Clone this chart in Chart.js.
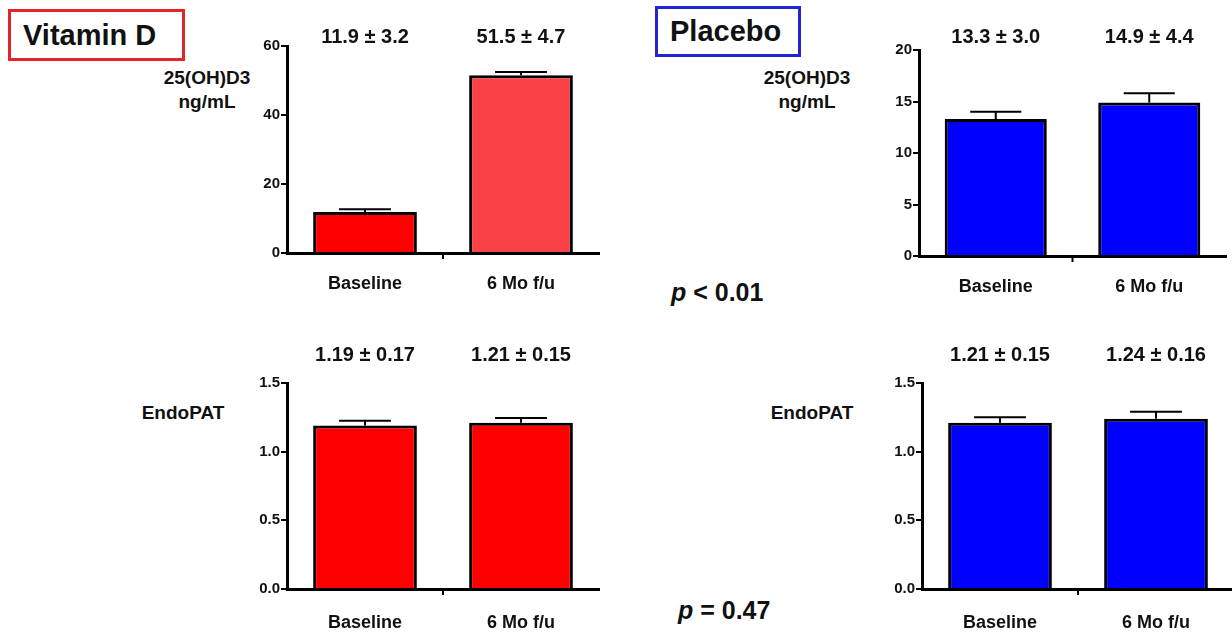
<!DOCTYPE html>
<html>
<head>
<meta charset="utf-8">
<script src="https://cdn.jsdelivr.net/npm/chart.js@4.4.1/dist/chart.umd.min.js"></script>
<style>
body { margin: 0; width: 1232px; height: 635px; overflow: hidden; background: #fff; position: relative;
  font-family: 'Liberation Sans', Arial, sans-serif; color: #111; }
canvas { position: absolute; }
.box { position: absolute; box-sizing: border-box; border: 3px solid; font-weight: bold; font-size: 29px; padding-left: 12px; }
.ytitle { position: absolute; width: 120px; text-align: center; font-weight: bold; font-size: 19px; line-height: 24px; }
.pval { position: absolute; font-weight: bold; font-size: 25px; line-height: 30px; }
</style>
</head>
<body>
<div class="box" style="left:8px;top:9px;width:177px;height:52px;line-height:46px;border-color:#e3242b">Vitamin D</div>
<div class="box" style="left:655px;top:6px;width:146px;height:51px;line-height:45px;border-color:#2323d4">Placebo</div>

<div class="ytitle" style="left:147px;top:66px">25(OH)D3<br>ng/mL</div>
<div class="ytitle" style="left:747px;top:66px">25(OH)D3<br>ng/mL</div>
<div class="ytitle" style="left:123px;top:401px">EndoPAT</div>
<div class="ytitle" style="left:752px;top:401px">EndoPAT</div>

<div class="pval" style="left:671px;top:277px"><i>p</i> &lt; 0.01</div>
<div class="pval" style="left:678px;top:595px"><i>p</i> = 0.47</div>

<canvas id="vitD25"></canvas>
<canvas id="plac25"></canvas>
<canvas id="vitDEndo"></canvas>
<canvas id="placEndo"></canvas>

<script>
'use strict';

var categories = ['Baseline', '6 Mo f/u'];

// 25(OH)D3, ng/mL (mean, SD printed above, SEM drawn as error bar)
var vitD25 = [11.9, 51.5];
var vitD25Sd = [3.2, 4.7];
var vitD25Err = [0.8, 1.0];
var plac25 = [13.3, 14.9];
var plac25Sd = [3.0, 4.4];
var plac25Err = [0.7, 0.9];

// EndoPAT
var vitDEndo = [1.19, 1.21];
var vitDEndoSd = [0.17, 0.15];
var vitDEndoErr = [0.035, 0.036];
var placEndo = [1.21, 1.24];
var placEndoSd = [0.15, 0.16];
var placEndoErr = [0.04, 0.05];

// y axis ticks
var vitD25Ticks = [0, 20, 40, 60];
var plac25Ticks = [0, 5, 10, 15, 20];
var endoTicks = [0, 0.5, 1.0, 1.5];

var FONT = "'Liberation Sans', Arial, sans-serif";
Chart.defaults.font.family = FONT;
Chart.defaults.color = '#111';

// error bars, value labels over the bars and the little tick between the two categories
var decorPlugin = {
  id: 'decor',
  afterDatasetsDraw: function(chart) {
    var ctx = chart.ctx;
    var ds = chart.data.datasets[0];
    var meta = chart.getDatasetMeta(0);
    var yScale = chart.scales.y;
    var xScale = chart.scales.x;
    ctx.save();
    ctx.strokeStyle = '#000';
    ctx.lineWidth = 2;
    meta.data.forEach(function(bar, i) {
      var top = yScale.getPixelForValue(ds.data[i] + ds.err[i]);
      var half = bar.width / 4;
      ctx.beginPath();
      ctx.moveTo(bar.x, bar.y);
      ctx.lineTo(bar.x, top);
      ctx.moveTo(bar.x - half, top);
      ctx.lineTo(bar.x + half, top);
      ctx.stroke();

      ctx.fillStyle = '#111';
      ctx.font = 'bold 20px ' + FONT;
      ctx.textAlign = 'center';
      ctx.textBaseline = 'middle';
      ctx.fillText(ds.data[i].toFixed(ds.dec) + ' \u00b1 ' + ds.sd[i].toFixed(ds.dec),
        bar.x, chart.chartArea.top - ds.labelGap);
    });
    var mid = (xScale.getPixelForValue(0) + xScale.getPixelForValue(1)) / 2;
    ctx.beginPath();
    ctx.moveTo(mid, chart.chartArea.bottom);
    ctx.lineTo(mid, chart.chartArea.bottom + 6);
    ctx.stroke();
    ctx.restore();
  }
};

// L,T,R,B are where the axes should land on the page
function makePanel(id, L, T, R, B, values, sd, err, colors, ticks, dec, tickDec, labelGap, xPad) {
  var canvas = document.getElementById(id);
  var padTop = 44;
  var yw = 60;
  var xh = 50;
  var padRight = 8;
  canvas.width = (R - L) + yw + padRight;
  canvas.height = (B - T) + padTop + xh;
  canvas.style.left = (L - yw) + 'px';
  canvas.style.top = (T - padTop) + 'px';

  return new Chart(canvas, {
    type: 'bar',
    data: {
      labels: categories,
      datasets: [{
        data: values,
        sd: sd,
        err: err,
        dec: dec,
        labelGap: labelGap,
        backgroundColor: colors,
        borderColor: '#000',
        borderWidth: 3,
        categoryPercentage: 1,
        barPercentage: 0.665
      }]
    },
    options: {
      responsive: false,
      animation: false,
      layout: { padding: { left: 0, top: padTop, right: padRight, bottom: 0 } },
      plugins: { legend: { display: false }, tooltip: { enabled: false } },
      scales: {
        x: {
          grid: { display: false },
          border: { display: true, color: '#000', width: 3 },
          ticks: { padding: xPad, font: { size: 18, weight: 'bold' }, color: '#111' },
          afterFit: function(s) { s.height = xh; }
        },
        y: {
          min: ticks[0],
          max: ticks[ticks.length - 1],
          grid: { drawOnChartArea: false, color: '#000', lineWidth: 2, tickLength: 6 },
          border: { display: true, color: '#000', width: 3 },
          ticks: {
            padding: 1,
            font: { size: 15, weight: 'bold' },
            color: '#111',
            callback: function(v) { return Number(v).toFixed(tickDec); }
          },
          afterBuildTicks: function(s) {
            s.ticks = ticks.map(function(v) { return { value: v }; });
          },
          afterFit: function(s) { s.width = yw; }
        }
      }
    },
    plugins: [decorPlugin]
  });
}

makePanel('vitD25', 287, 46, 599, 253, vitD25, vitD25Sd, vitD25Err,
  ['#ff0000', '#f94245'], vitD25Ticks, 1, 0, 9, 12);
makePanel('plac25', 919, 50, 1226, 256, plac25, plac25Sd, plac25Err,
  ['#0000ff', '#0000ff'], plac25Ticks, 1, 0, 13, 12);
makePanel('vitDEndo', 287, 383, 599, 589, vitDEndo, vitDEndoSd, vitDEndoErr,
  ['#ff0000', '#ff0000'], endoTicks, 2, 1, 28, 15);
makePanel('placEndo', 922, 383, 1234, 589, placEndo, placEndoSd, placEndoErr,
  ['#0000ff', '#0000ff'], endoTicks, 2, 1, 28, 15);
</script>
</body>
</html>
